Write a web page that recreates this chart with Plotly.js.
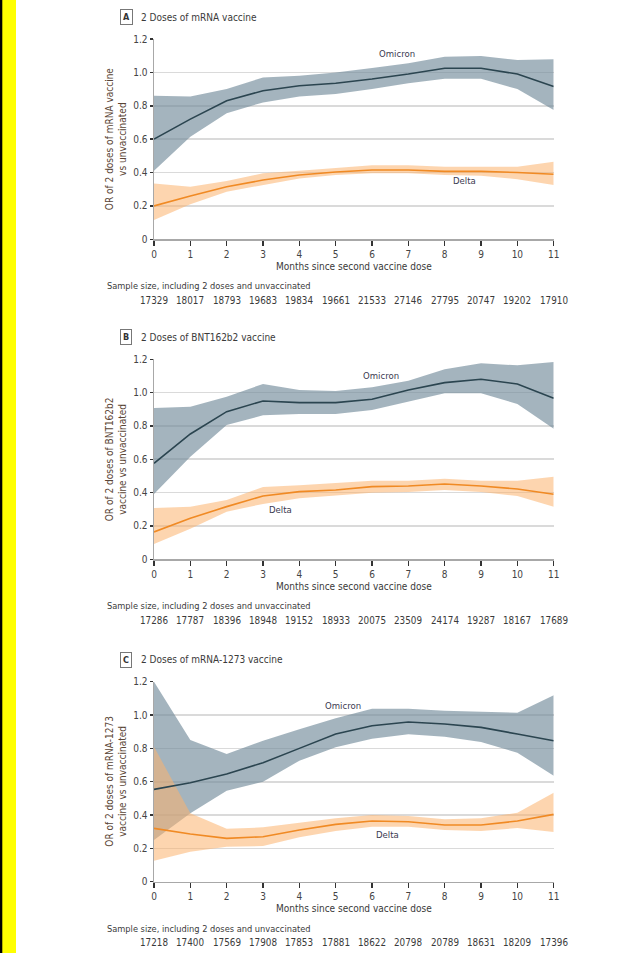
<!DOCTYPE html>
<html>
<head>
<meta charset="utf-8">
<script src="https://cdn.plot.ly/plotly-3.0.1.min.js"></script>
<style>html,body{margin:0;padding:0;background:#fff;}#chart{width:631px;height:953px;}</style>
</head>
<body>
<div id="chart"></div>
<script>
// ---- data ----
const months = [0,1,2,3,4,5,6,7,8,9,10,11];
const yTickVals = [0,0.2,0.4,0.6,0.8,1.0,1.2];
const yTickText = ["0","0.2","0.4","0.6","0.8","1.0","1.2"];

const panelLetters = ["A","B","C"];
const panelTitles = ["2 Doses of mRNA vaccine","2 Doses of BNT162b2 vaccine","2 Doses of mRNA-1273 vaccine"];
const yTitles = ["OR of 2 doses of mRNA vaccine<br>vs unvaccinated",
                 "OR of 2 doses of BNT162b2<br>vaccine vs unvaccinated",
                 "OR of 2 doses of mRNA-1273<br>vaccine vs unvaccinated"];

// Panel A
const A_omicron    = [0.60,0.72,0.83,0.89,0.92,0.935,0.96,0.99,1.025,1.025,0.99,0.915];
const A_omicron_hi = [0.86,0.855,0.90,0.97,0.98,1.00,1.026,1.054,1.094,1.098,1.074,1.078];
const A_omicron_lo = [0.41,0.615,0.755,0.82,0.855,0.87,0.90,0.935,0.962,0.962,0.90,0.775];
const A_delta      = [0.20,0.26,0.315,0.355,0.385,0.403,0.415,0.415,0.407,0.407,0.40,0.39];
const A_delta_hi   = [0.335,0.315,0.35,0.395,0.41,0.425,0.443,0.443,0.435,0.435,0.435,0.465];
const A_delta_lo   = [0.115,0.21,0.285,0.325,0.365,0.385,0.395,0.395,0.385,0.38,0.36,0.325];
const A_n = ["17329","18017","18793","19683","19834","19661","21533","27146","27795","20747","19202","17910"];

// Panel B
const B_omicron    = [0.576,0.752,0.886,0.95,0.94,0.94,0.96,1.016,1.06,1.08,1.052,0.966];
const B_omicron_hi = [0.908,0.916,0.976,1.052,1.016,1.01,1.032,1.072,1.14,1.176,1.164,1.184];
const B_omicron_lo = [0.392,0.616,0.806,0.864,0.872,0.872,0.896,0.946,0.996,0.996,0.932,0.784];
const B_delta      = [0.164,0.246,0.316,0.38,0.406,0.416,0.436,0.44,0.452,0.44,0.422,0.39];
const B_delta_hi   = [0.308,0.316,0.356,0.434,0.444,0.46,0.472,0.472,0.484,0.472,0.472,0.496];
const B_delta_lo   = [0.092,0.184,0.286,0.332,0.366,0.384,0.40,0.404,0.416,0.404,0.38,0.316];
const B_n = ["17286","17787","18396","18948","19152","18933","20075","23509","24174","19287","18167","17689"];

// Panel C
const C_omicron    = [0.554,0.594,0.646,0.714,0.80,0.886,0.936,0.958,0.946,0.926,0.886,0.846];
const C_omicron_hi = [1.20,0.85,0.766,0.846,0.914,0.98,1.038,1.038,1.026,1.018,1.014,1.118];
const C_omicron_lo = [0.25,0.41,0.546,0.60,0.726,0.806,0.858,0.884,0.87,0.838,0.774,0.636];
const C_delta      = [0.32,0.286,0.26,0.27,0.31,0.344,0.364,0.36,0.34,0.34,0.364,0.404];
const C_delta_hi   = [0.81,0.41,0.318,0.326,0.354,0.38,0.40,0.394,0.374,0.38,0.414,0.534];
const C_delta_lo   = [0.126,0.18,0.21,0.214,0.266,0.304,0.33,0.33,0.31,0.304,0.322,0.298];
const C_n = ["17218","17400","17569","17908","17853","17881","18622","20798","20789","18631","18209","17396"];

// label positions for series names (data coords)
const omicronLabelX = [6.70,6.26,5.19];
const omicronLabelY = [1.114,1.10,1.06];
const deltaLabelX   = [8.55,3.47,6.42];
const deltaLabelY   = [0.355,0.296,0.286];

const panels = [
  {omi:A_omicron, omiHi:A_omicron_hi, omiLo:A_omicron_lo, del:A_delta, delHi:A_delta_hi, delLo:A_delta_lo, n:A_n},
  {omi:B_omicron, omiHi:B_omicron_hi, omiLo:B_omicron_lo, del:B_delta, delHi:B_delta_hi, delLo:B_delta_lo, n:B_n},
  {omi:C_omicron, omiHi:C_omicron_hi, omiLo:C_omicron_lo, del:C_delta, delHi:C_delta_hi, delLo:C_delta_lo, n:C_n}
];

// ---- styling / layout ----
const W = 631, H = 953;
const FONT = "Liberation Sans Narrow, Arial Narrow, DejaVu Sans Condensed, sans-serif";
const TXT = "#3a3a3a";
const OMI_LINE = "#2b4550", OMI_FILL = "rgba(112,138,154,0.64)";
const DEL_LINE = "#f08a24", DEL_FILL = "rgba(252,178,110,0.55)";
const plotTop = [39, 359.3, 681.7];   // pixel of y=1.2
const plotBot = [239.3, 559.3, 881.7]; // pixel of y=0
const xLeft = 154, xRight = 553.7;
const py = p => 1 - p / H;
const px = p => p / W;

const traces = [];
const layout = {
  width: W, height: H,
  margin: {l:0, r:0, t:0, b:0},
  paper_bgcolor: "#fff", plot_bgcolor: "#fff",
  showlegend: false,
  font: {family: FONT, size: 10, color: TXT},
  annotations: [],
  shapes: [
    {type:"rect", xref:"paper", yref:"paper", x0:0, x1:px(16), y0:0, y1:1, fillcolor:"#ffff00", line:{width:0}, layer:"below"},
    {type:"rect", xref:"paper", yref:"paper", x0:0, x1:px(2.3), y0:0, y1:1, fillcolor:"#000", line:{width:0}, layer:"below"}
  ]
};

panels.forEach((P, i) => {
  const sfx = i === 0 ? "" : String(i + 1);
  const xa = "x" + sfx, ya = "y" + sfx;
  traces.push({x:months, y:P.omiLo, xaxis:xa, yaxis:ya, mode:"lines", line:{width:0}, hoverinfo:"skip"});
  traces.push({x:months, y:P.omiHi, xaxis:xa, yaxis:ya, mode:"lines", line:{width:0}, fill:"tonexty", fillcolor:OMI_FILL, hoverinfo:"skip"});
  traces.push({x:months, y:P.delLo, xaxis:xa, yaxis:ya, mode:"lines", line:{width:0}, hoverinfo:"skip"});
  traces.push({x:months, y:P.delHi, xaxis:xa, yaxis:ya, mode:"lines", line:{width:0}, fill:"tonexty", fillcolor:DEL_FILL, hoverinfo:"skip"});
  traces.push({x:months, y:P.omi, xaxis:xa, yaxis:ya, mode:"lines", line:{color:OMI_LINE, width:1.6}, name:"Omicron"});
  traces.push({x:months, y:P.del, xaxis:xa, yaxis:ya, mode:"lines", line:{color:DEL_LINE, width:1.6}, name:"Delta"});

  layout["xaxis" + sfx] = {
    domain:[px(xLeft), px(xRight)], anchor:ya, range:[0,11],
    tickvals:months, ticktext:months.map(String),
    showgrid:false, zeroline:false,
    showline:true, linecolor:"#a8a8a8", linewidth:1.5,
    ticks:"outside", ticklen:5, tickwidth:1.5, tickcolor:"#333",
    tickfont:{family:FONT, size:10, color:"#444"}, fixedrange:true
  };
  layout["yaxis" + sfx] = {
    domain:[py(plotBot[i]), py(plotTop[i])], anchor:xa, range:[0,1.2],
    tickvals:yTickVals, ticktext:yTickText,
    showgrid:true, gridcolor:"#dadada", gridwidth:1.6, zeroline:false,
    showline:true, linecolor:"#a8a8a8", linewidth:1.5,
    ticks:"outside", ticklen:3, tickwidth:1.5, tickcolor:"#333",
    tickfont:{family:FONT, size:10, color:"#444"}, fixedrange:true
  };

  const A = layout.annotations;
  // panel letter box
  A.push({xref:"paper", yref:"paper", x:px(126.3), y:py(plotBot[i]-222), xanchor:"center", yanchor:"middle",
          text:"<b>"+panelLetters[i]+"</b>", showarrow:false, font:{family:FONT, size:9, color:"#333"},
          bordercolor:"#777", borderwidth:1, borderpad:2, bgcolor:"#fff"});
  // panel title
  A.push({xref:"paper", yref:"paper", x:px(139), y:py(plotBot[i]-222), xanchor:"left", yanchor:"middle",
          text:panelTitles[i], showarrow:false, font:{family:FONT, size:10, color:TXT}});
  // y-axis title
  A.push({xref:"paper", yref:"paper", x:px(116), y:py((plotTop[i]+plotBot[i])/2), xanchor:"center", yanchor:"middle",
          text:yTitles[i], textangle:-90, showarrow:false, font:{family:FONT, size:10, color:"#5a4535"}});
  // x-axis title
  A.push({xref:"paper", yref:"paper", x:px((xLeft+xRight)/2), y:py(plotBot[i]+27), xanchor:"center", yanchor:"middle",
          text:"Months since second vaccine dose", showarrow:false, font:{family:FONT, size:10, color:TXT}});
  // sample size caption
  A.push({xref:"paper", yref:"paper", x:px(105), y:py(plotBot[i]+46.5), xanchor:"left", yanchor:"middle",
          text:"Sample size, including 2 doses and unvaccinated", showarrow:false, font:{family:FONT, size:9.2, color:TXT}});
  // sample size numbers
  months.forEach((m, k) => {
    A.push({xref:xa, yref:"paper", x:m, y:py(plotBot[i]+61), xanchor:"center", yanchor:"middle",
            text:P.n[k], showarrow:false, font:{family:FONT, size:9.8, color:TXT}});
  });
  // series labels
  A.push({xref:xa, yref:ya, x:omicronLabelX[i], y:omicronLabelY[i], text:"Omicron", showarrow:false,
          xanchor:"center", yanchor:"middle", font:{family:FONT, size:9.5, color:"#3a3a50"}});
  A.push({xref:xa, yref:ya, x:deltaLabelX[i], y:deltaLabelY[i], text:"Delta", showarrow:false,
          xanchor:"center", yanchor:"middle", font:{family:FONT, size:9.5, color:"#3a3a50"}});
});

Plotly.newPlot("chart", traces, layout, {staticPlot:true, displayModeBar:false});
</script>
</body>
</html>
